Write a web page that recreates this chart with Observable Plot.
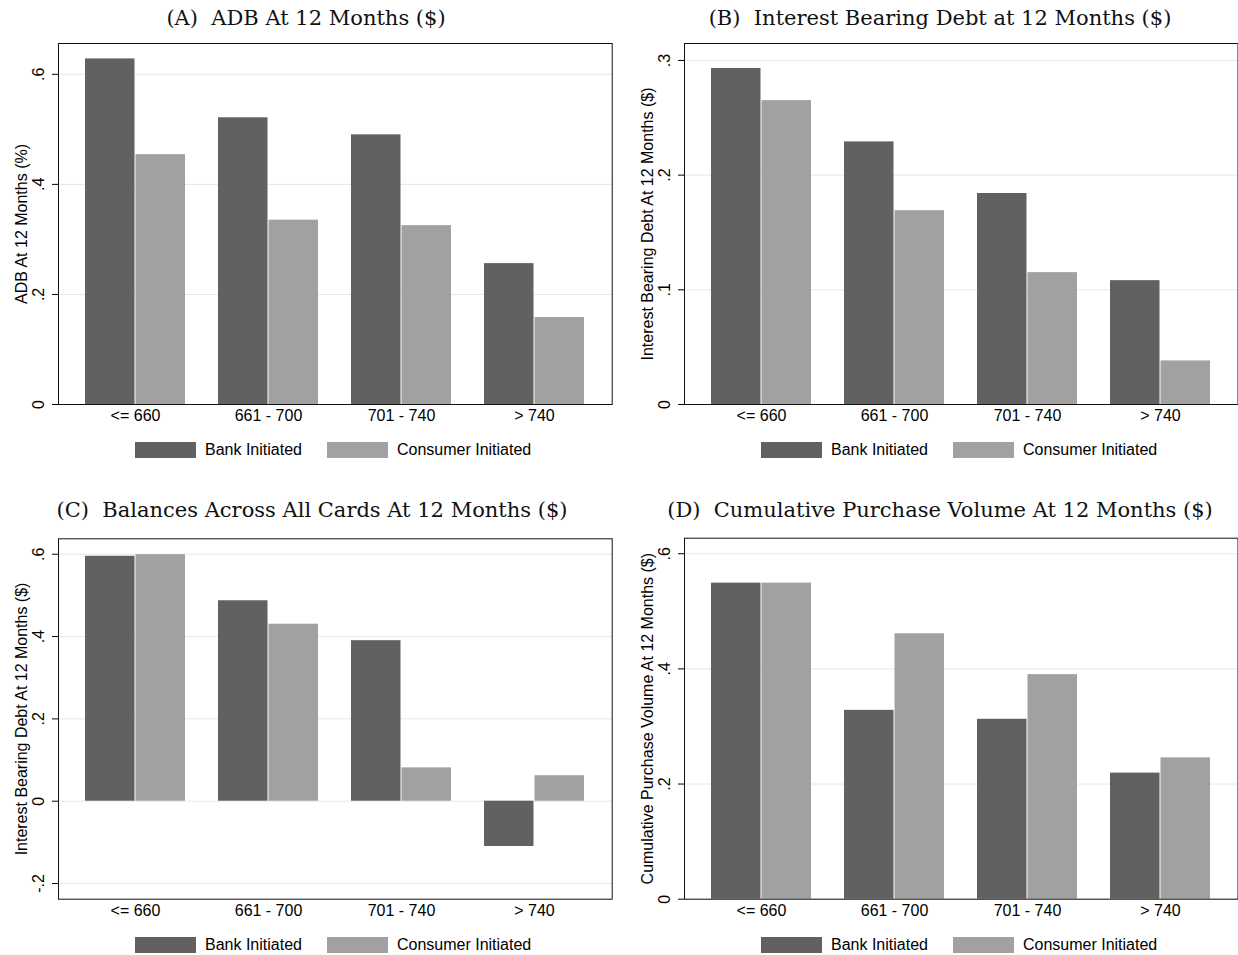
<!DOCTYPE html>
<html><head><meta charset="utf-8">
<script src="https://cdn.jsdelivr.net/npm/d3@7"></script>
<script src="https://cdn.jsdelivr.net/npm/@observablehq/plot@0.6"></script>
<style>
body{margin:0;background:#fff;overflow:hidden}
#root{position:relative;width:1238px;height:955px;font-family:"Liberation Sans",Arial,sans-serif;color:#000}
.title{position:absolute;font-family:"DejaVu Serif","Liberation Serif",serif;font-size:21px;line-height:21px;white-space:pre;transform:translateX(-50%);color:#111}
.panel{position:absolute}
.legend{position:absolute;display:flex;align-items:center;font-size:16px;line-height:16px;white-space:nowrap}
.sw{display:inline-block;width:61px;height:16px;margin-right:9px}
</style></head><body><div id="root"></div>
<script>
const categories = ["<= 660", "661 - 700", "701 - 740", "> 740"];
const series = ["Bank Initiated", "Consumer Initiated"];
const colors = ["#616161", "#a1a1a1"];

const titles = ["(A)  ADB At 12 Months ($)", "(B)  Interest Bearing Debt at 12 Months ($)", "(C)  Balances Across All Cards At 12 Months ($)", "(D)  Cumulative Purchase Volume At 12 Months ($)"];
const yLabels = ["ADB At 12 Months (%)", "Interest Bearing Debt At 12 Months ($)", "Interest Bearing Debt At 12 Months ($)", "Cumulative Purchase Volume At 12 Months ($)"];

const adbBank = [0.628, 0.521, 0.490, 0.256];
const adbConsumer = [0.454, 0.335, 0.325, 0.158];
const debtBank = [0.293, 0.229, 0.184, 0.108];
const debtConsumer = [0.265, 0.169, 0.115, 0.038];
const balBank = [0.595, 0.487, 0.390, -0.110];
const balConsumer = [0.599, 0.430, 0.081, 0.062];
const purchBank = [0.549, 0.328, 0.3125, 0.219];
const purchConsumer = [0.549, 0.461, 0.390, 0.2455];

const ticksA = [0, 0.2, 0.4, 0.6];
const ticksB = [0, 0.1, 0.2, 0.3];
const ticksC = [-0.2, 0, 0.2, 0.4, 0.6];
const ticksD = [0, 0.2, 0.4, 0.6];

const panels = [
  {bank: adbBank, consumer: adbConsumer, domain: [0, 0.656], ticks: ticksA, left: 0, top: 0, mt: 43, mr: 0.3, titleX: 306, titleY: 8},
  {bank: debtBank, consumer: debtConsumer, domain: [0, 0.3148], ticks: ticksB, left: 626, top: 0, mt: 43, mr: 0.5, titleX: 940, titleY: 8},
  {bank: balBank, consumer: balConsumer, domain: [-0.238, 0.6375], ticks: ticksC, left: 0, top: 490, mt: 48.3, mr: 0.3, titleX: 312, titleY: 500},
  {bank: purchBank, consumer: purchConsumer, domain: [0, 0.627], ticks: ticksD, left: 626, top: 490, mt: 47.7, mr: 0.5, titleX: 940, titleY: 500}
];

const fmt = d => d === 0 ? "0" : String(d).replace(/^(-?)0\./, "$1.");
const root = document.getElementById("root");

panels.forEach((p, k) => {
  const bankData = categories.map((c, i) => ({cat: c, series: series[0], v: p.bank[i]}));
  const consData = categories.map((c, i) => ({cat: c, series: series[1], v: p.consumer[i]}));
  const frameBottom = k < 2 ? 404 : 898.7;
  const height = frameBottom - p.top + 36;
  const chart = Plot.plot({
    width: 612, height,
    marginLeft: 58, marginRight: p.mr, marginTop: p.mt, marginBottom: 36,
    style: {fontFamily: '"Liberation Sans", Arial, sans-serif', fontSize: "16px", color: "#000", background: "transparent", overflow: "visible"},
    x: {domain: categories, paddingInner: 0.246, paddingOuter: 0.19, tickSize: 0, tickPadding: 5, label: null},
    y: {domain: p.domain, ticks: p.ticks, tickFormat: fmt, grid: true, tickRotate: -90, tickPadding: 9, label: yLabels[k], labelAnchor: "center", labelOffset: 43, labelArrow: false},
    color: {domain: series, range: colors},
    marks: [
      Plot.barY(bankData, {x: "cat", y: "v", fill: "series", insetRight: 50.5}),
      Plot.barY(consData, {x: "cat", y: "v", fill: "series", insetLeft: 50.5}),
      Plot.frame({stroke: "#111"})
    ]
  });
  const wrap = document.createElement("div");
  wrap.className = "panel";
  wrap.style.left = p.left + "px";
  wrap.style.top = p.top + "px";
  wrap.appendChild(chart);
  root.appendChild(wrap);

  const t = document.createElement("div");
  t.className = "title";
  t.textContent = titles[k];
  t.style.left = p.titleX + "px";
  t.style.top = p.titleY + "px";
  root.appendChild(t);

  const lg = document.createElement("div");
  lg.className = "legend";
  lg.style.left = (p.left + 135) + "px";
  lg.style.top = (k < 2 ? 442 : 937) + "px";
  series.forEach((s, j) => {
    const sw = document.createElement("span");
    sw.className = "sw";
    sw.style.background = colors[j];
    const tx = document.createElement("span");
    tx.textContent = s;
    tx.style.marginRight = j === 0 ? "25px" : "0";
    lg.appendChild(sw); lg.appendChild(tx);
  });
  root.appendChild(lg);
});
</script></body></html>
